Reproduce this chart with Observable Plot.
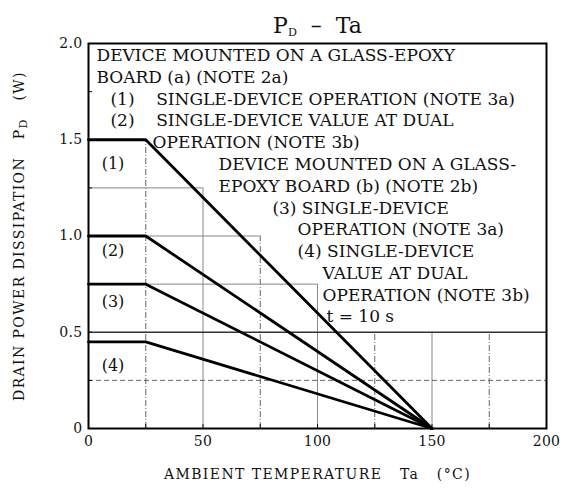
<!DOCTYPE html>
<html>
<head>
<meta charset="utf-8">
<script src="https://cdn.jsdelivr.net/npm/d3@7"></script>
<script src="https://cdn.jsdelivr.net/npm/@observablehq/plot@0.6"></script>
<style>
  html, body { margin: 0; padding: 0; background: white; }
  svg text { white-space: pre; }
  .axlabel text { letter-spacing: 1.4px; }
  .ticklab text { letter-spacing: 0.3px; }
</style>
</head>
<body>
<div id="chart"></div>
<script>
// ---- data ----
const temps = [0, 25, 150];
const curve1 = [1.5, 1.5, 0];
const curve2 = [1.0, 1.0, 0];
const curve3 = [0.75, 0.75, 0];
const curve4 = [0.45, 0.45, 0];
const curveNames = ["(1)", "(2)", "(3)", "(4)"];
const curveLabelX = [10.7, 10.7, 10.7, 10.7];
const curveLabelY = [1.377, 0.925, 0.66, 0.327];

const xTicks = [0, 50, 100, 150, 200];
const yTicks = [0, 0.5, 1.0, 1.5, 2.0];
const yTickLabels = ["0", "0.5", "1.0", "1.5", "2.0"];
const yMinorTicks = [0.25, 0.5, 0.75, 1.0, 1.25, 1.5, 1.75];
const xMinorTicks = [25, 50, 75, 100, 125, 150, 175];

// staircase grid (grid stops where the note box begins)
const vGridX = [25, 50, 75, 100, 125, 150, 175];
const vGridTop = [1.5, 1.25, 1.0, 0.75, 0.5, 0.5, 0.5];
const hGridY = [0.25, 0.5, 0.75, 1.0, 1.25];
const hGridEnd = [200, 200, 100, 75, 50];

const noteLines = [
  "DEVICE MOUNTED ON A GLASS-EPOXY",
  "BOARD (a) (NOTE 2a)",
  "(1)    SINGLE-DEVICE OPERATION (NOTE 3a)",
  "(2)    SINGLE-DEVICE VALUE AT DUAL",
  "OPERATION (NOTE 3b)",
  "DEVICE MOUNTED ON A GLASS-",
  "EPOXY BOARD (b) (NOTE 2b)",
  "(3) SINGLE-DEVICE",
  "OPERATION (NOTE 3a)",
  "(4) SINGLE-DEVICE",
  "VALUE AT DUAL",
  "OPERATION (NOTE 3b)",
  "t = 10 s"
];
const noteX = [3.5, 3.5, 9.6, 9.6, 28.0, 56.8, 56.8, 80.3, 91.3, 91.3, 102.2, 102.2, 103.9];
const noteY = [1.938, 1.824, 1.711, 1.598, 1.485, 1.371, 1.258, 1.145, 1.032, 0.918, 0.805, 0.692, 0.579];

const titleText = "P_D  –  Ta";
const xLabel = "AMBIENT TEMPERATURE   Ta   (°C)";
const yLabel = "DRAIN POWER DISSIPATION   P_D   (W)";

// ---- tables ----
const curves = [curve1, curve2, curve3, curve4].flatMap((vals, k) =>
  temps.map((t, i) => ({series: curveNames[k], ta: t, pd: vals[i]})));
const vGrid = vGridX.map((x, i) => ({x, top: vGridTop[i], dashed: x % 50 !== 0}));
const hGrid = hGridY.map((y, i) => ({y, end: hGridEnd[i]}));
const notes = noteLines.map((t, i) => ({t, x: noteX[i], y: noteY[i]}));
const labels = curveNames.map((t, i) => ({t, x: curveLabelX[i], y: curveLabelY[i]}));

const font = "DejaVu Serif";

const plot = Plot.plot({
  width: 563,
  height: 492,
  marginLeft: 88,
  marginRight: 17,
  marginTop: 43,
  marginBottom: 64,
  style: {fontFamily: font, fontSize: "14px", background: "white", color: "#111"},
  x: {domain: [0, 200]},
  y: {domain: [0, 2]},
  marks: [
    // grid
    Plot.ruleX(vGrid.filter(d => !d.dashed), {x: "x", y1: 0, y2: "top", stroke: "#888", strokeWidth: 1}),
    Plot.ruleX(vGrid.filter(d => d.dashed), {x: "x", y1: 0, y2: "top", stroke: "#666", strokeWidth: 1, strokeDasharray: "6,2,1,2"}),
    Plot.ruleY(hGrid.filter(d => d.y !== 0.5 && d.y !== 0.25), {y: "y", x1: 0, x2: "end", stroke: "#888", strokeWidth: 1}),
    Plot.ruleY(hGrid.filter(d => d.y === 0.25), {y: "y", x1: 0, x2: "end", stroke: "#666", strokeWidth: 1, strokeDasharray: "5,3"}),
    Plot.ruleY(hGrid.filter(d => d.y === 0.5), {y: "y", x1: 0, x2: "end", stroke: "#333", strokeWidth: 1.3}),
    // axes
    Plot.axisX({ticks: xTicks, tickSize: 0, tickPadding: 8, fontSize: 14, label: null, className: "ticklab"}),
    Plot.axisY({ticks: yTicks, tickFormat: (d) => yTickLabels[yTicks.indexOf(d)], tickSize: 0, tickPadding: 6, fontSize: 14, label: null, className: "ticklab"}),
    Plot.axisY({ticks: yMinorTicks, tickFormat: () => "", tickSize: -4, label: null}),
    Plot.axisX({ticks: xMinorTicks, tickFormat: () => "", tickSize: -4, label: null}),
    Plot.frame({stroke: "black", strokeWidth: 2}),
    // curves
    Plot.line(curves, {x: "ta", y: "pd", z: "series", stroke: "black", strokeWidth: 2.8, strokeLinejoin: "miter"}),
    // labels
    Plot.text(labels, {x: "x", y: "y", text: "t", fontSize: 16, fill: "#111"}),
    Plot.text(notes, {x: "x", y: "y", text: "t", textAnchor: "start", fontSize: 17, fill: "#111"}),
    // title and axis labels
    Plot.text([titleText], {frameAnchor: "top", lineAnchor: "bottom", dy: -11, fontSize: 22}),
    Plot.text([xLabel], {frameAnchor: "bottom", dy: 50, fontSize: 14, className: "axlabel"}),
    Plot.text([yLabel], {y: 1.0, frameAnchor: "left", textAnchor: "middle", dx: -69, rotate: -90, fontSize: 14, className: "axlabel"})
  ]
});

// subscript "D" in P_D
d3.select(plot).selectAll("text").each(function() {
  const el = this;
  const txt = el.textContent;
  if (!txt.includes("P_D") || el.querySelector("tspan")) return;
  const [before, after] = txt.split("P_D");
  const sel = d3.select(el);
  const fs = parseFloat(sel.attr("font-size")) || 14;
  sel.text(null);
  sel.append("tspan").text(before + "P");
  sel.append("tspan").attr("dy", fs * 0.25).attr("font-size", fs * 0.8).text("D");
  sel.append("tspan").attr("dy", -fs * 0.25).text(after);
});

document.getElementById("chart").appendChild(plot);
</script>
</body>
</html>
